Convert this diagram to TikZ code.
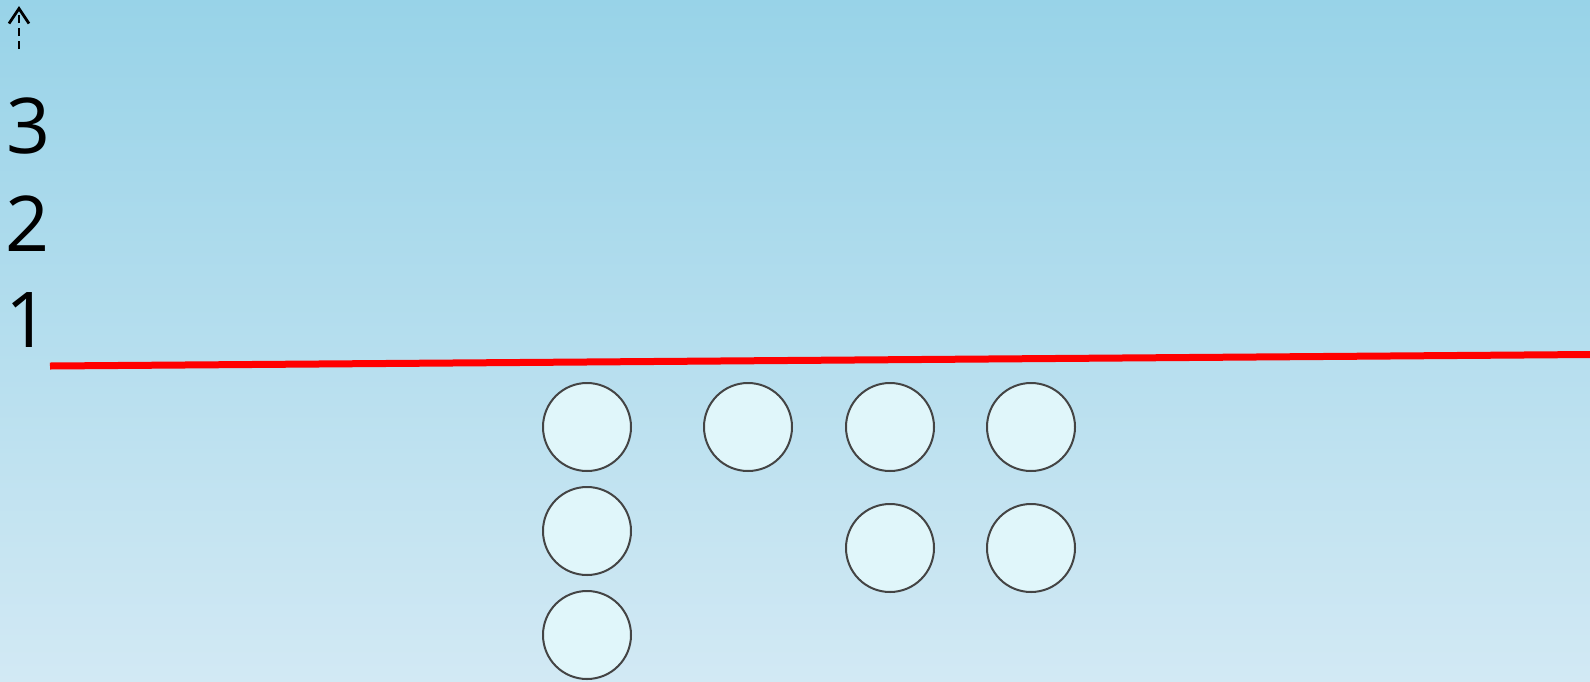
\documentclass[tikz,border=0pt]{standalone}
\usepackage{fontspec}
\setmainfont{Open Sans}
\usetikzlibrary{arrows.meta}
\definecolor{bgtop}{RGB}{152,211,232}
\definecolor{bgbot}{RGB}{210,233,244}
\definecolor{circfill}{RGB}{224,246,250}
\definecolor{circline}{RGB}{68,68,68}
\definecolor{redline}{RGB}{255,0,0}
\tikzset{
  ball/.style={circle, draw=circline, line width=2pt, fill=circfill, minimum size=88pt, inner sep=0pt},
  numlabel/.style={font=\fontsize{77}{77}\selectfont, text=black, inner sep=0pt},
}
\begin{document}
\begin{tikzpicture}[x=1pt,y=-1pt]
\useasboundingbox (0,0) rectangle (1590,681);
\shade[top color=bgtop, bottom color=bgbot] (0,0) rectangle (1590,681);
% axis arrow
\coordinate (arB) at (19,49);
\coordinate (arT) at (19,6);
\draw[line width=2.8pt, dash pattern=on 8pt off 5pt, -{Straight Barb[length=15pt,width=20pt,line width=2.8pt]}] (arB) -- (arT);
% numbers
\node[numlabel] (n3) at (29,126) {3};
\node[numlabel] (n2) at (28,224) {2};
\node[numlabel] (n1) at (28,320) {1};
% red line
\coordinate (rL) at (50,366);
\coordinate (rR) at (1590,354.5);
\draw[redline, line width=7pt] (rL) -- (rR);
% circles
\node[ball] (c1) at (587,427) {};
\node[ball] (c2) at (748,427) {};
\node[ball] (c3) at (890,427) {};
\node[ball] (c4) at (1031,427) {};
\node[ball] (c5) at (587,531) {};
\node[ball] (c6) at (890,548) {};
\node[ball] (c7) at (1031,548) {};
\node[ball] (c8) at (587,635) {};
\end{tikzpicture}
\end{document}
